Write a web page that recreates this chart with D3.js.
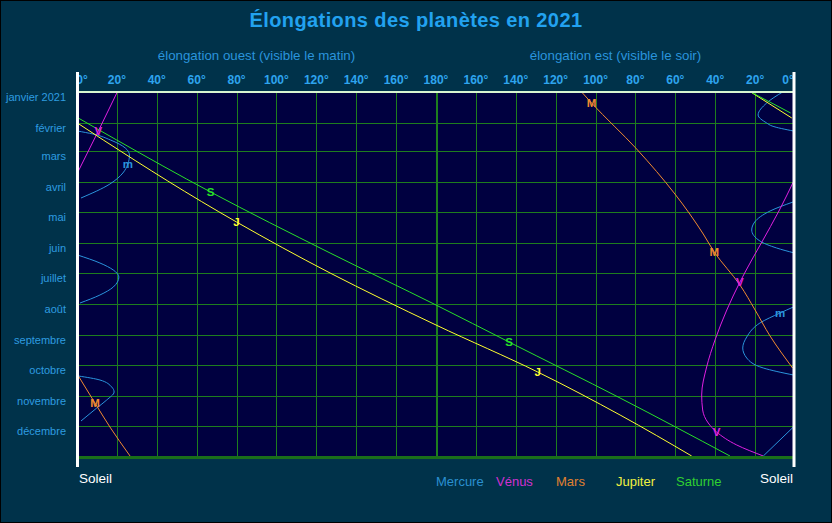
<!DOCTYPE html>
<html>
<head>
<meta charset="utf-8">
<style>
body {
    margin: 0;
    background: #00324a;
}
svg {
    display: block;
}
text {
    font-family: "Liberation Sans", Arial, sans-serif;
}
</style>
</head>
<body>
<svg id="chart" width="832" height="523"></svg>

<script src="https://d3js.org/d3.v7.min.js"></script>
<script>
    const months = ["janvier 2021", "février", "mars", "avril", "mai", "juin", "juillet", "août", "septembre", "octobre", "novembre", "décembre"];
    const tick_degrees = [0, 20, 40, 60, 80, 100, 120, 140, 160, 180, 200, 220, 240, 260, 280, 300, 320, 340, 360];
    const tick_labels = ["0°", "20°", "40°", "60°", "80°", "100°", "120°", "140°", "160°", "180°", "160°", "140°", "120°", "100°", "80°", "60°", "40°", "20°", "0°"];

    const planet_names = ["Mercure", "Vénus", "Mars", "Jupiter", "Saturne"];
    const planet_colors = ["#2a94dc", "#e020e0", "#f08a30", "#ffff30", "#28e028"];
    const legend_colors = ["#2a90d0", "#d030d0", "#e08030", "#f0f040", "#30d030"];

    // [date, elongation in degrees, side: "O" ouest (matin) / "E" est (soir)]
    const mercure = [
        ["2021-01-01", 6.2, "E"], ["2021-01-12", 14.2, "E"], ["2021-01-24", 18.5, "E"], ["2021-02-01", 14.2, "E"],
        ["2021-02-04", 11.5, "E"], ["2021-02-09", 0.8, "E"],
        ["2021-02-09", 0.2, "O"], ["2021-02-12", 8, "O"], ["2021-02-18", 16.8, "O"], ["2021-02-26", 24.2, "O"],
        ["2021-03-05", 26.3, "O"], ["2021-03-14", 25.5, "O"], ["2021-03-23", 23, "O"], ["2021-04-03", 16.5, "O"],
        ["2021-04-17", 2, "O"],
        ["2021-04-21", 1, "E"], ["2021-04-30", 12.5, "E"], ["2021-05-11", 20.2, "E"], ["2021-05-19", 21.7, "E"],
        ["2021-05-30", 17.6, "E"], ["2021-06-06", 9.2, "E"], ["2021-06-11", 0.3, "E"],
        ["2021-06-13", 0.3, "O"], ["2021-06-21", 11.5, "O"], ["2021-06-28", 18.2, "O"], ["2021-07-05", 21, "O"],
        ["2021-07-15", 18.2, "O"], ["2021-07-23", 11.5, "O"], ["2021-07-31", 1.5, "O"],
        ["2021-08-04", 0.8, "E"], ["2021-08-10", 7.5, "E"], ["2021-08-20", 17.6, "E"], ["2021-09-03", 24.2, "E"],
        ["2021-09-14", 26.2, "E"], ["2021-09-24", 24.2, "E"], ["2021-10-04", 15.9, "E"], ["2021-10-11", 0.8, "E"],
        ["2021-10-12", 0.7, "O"], ["2021-10-16", 11.5, "O"], ["2021-10-23", 17.4, "O"], ["2021-10-28", 18.6, "O"],
        ["2021-11-05", 14.9, "O"], ["2021-11-13", 9.9, "O"], ["2021-11-26", 2, "O"],
        ["2021-12-02", 0.8, "E"], ["2021-12-31", 15.9, "E"]
    ];
    const venus = [
        ["2021-01-01", 20.2, "O"], ["2021-02-09", 10.7, "O"], ["2021-03-21", 0.7, "O"],
        ["2021-04-01", 0.85, "E"], ["2021-04-29", 7.8, "E"], ["2021-06-01", 16.9, "E"], ["2021-06-18", 21.7, "E"],
        ["2021-07-10", 27.6, "E"], ["2021-08-07", 34.2, "E"], ["2021-09-06", 40.1, "E"], ["2021-10-03", 44.3, "E"],
        ["2021-10-31", 46.8, "E"], ["2021-11-15", 46.3, "E"], ["2021-11-28", 43.5, "E"], ["2021-12-07", 39.3, "E"],
        ["2021-12-20", 29.2, "E"], ["2021-12-31", 15.9, "E"]
    ];
    const mars = [
        ["2021-01-01", 107, "E"], ["2021-01-12", 102, "E"], ["2021-02-27", 79.4, "E"], ["2021-04-13", 60.2, "E"],
        ["2021-05-23", 46, "E"], ["2021-06-10", 40.5, "E"], ["2021-07-13", 27.6, "E"], ["2021-08-07", 20, "E"],
        ["2021-09-02", 12.5, "E"], ["2021-10-04", 1.2, "E"],
        ["2021-10-12", 0.7, "O"], ["2021-11-08", 9, "O"], ["2021-12-02", 16.5, "O"], ["2021-12-31", 26.6, "O"]
    ];
    const jupiter = [
        ["2021-01-01", 22.2, "E"], ["2021-01-27", 1.6, "E"],
        ["2021-02-01", 0.2, "O"], ["2021-02-18", 13.2, "O"], ["2021-05-11", 80, "O"], ["2021-07-01", 126.9, "O"],
        ["2021-08-22", 180, "O"],
        ["2021-10-08", 129, "E"], ["2021-11-20", 87.7, "E"], ["2021-12-31", 51.8, "E"]
    ];
    const saturne = [
        ["2021-01-01", 22.2, "E"], ["2021-01-22", 2.2, "E"],
        ["2021-01-27", 0.65, "O"], ["2021-02-18", 19.9, "O"], ["2021-04-11", 67, "O"], ["2021-06-11", 126.9, "O"],
        ["2021-08-02", 180, "O"],
        ["2021-09-08", 143.4, "E"], ["2021-11-03", 87.7, "E"], ["2021-12-31", 32.6, "E"]
    ];
    const planet_data = [mercure, venus, mars, jupiter, saturne];

    // letters written on the curves: [letter, planet index, date, elongation, side]
    const curve_labels = [
        ["M", 2, "2021-01-12", 102, "E"], ["V", 1, "2021-02-09", 10.7, "O"], ["m", 0, "2021-03-14", 25.5, "O"],
        ["S", 4, "2021-04-11", 67, "O"], ["J", 3, "2021-05-11", 80, "O"], ["M", 2, "2021-06-10", 40.5, "E"],
        ["V", 1, "2021-07-10", 27.6, "E"], ["m", 0, "2021-08-10", 7.5, "E"], ["S", 4, "2021-09-08", 143.4, "E"],
        ["J", 3, "2021-10-08", 129, "E"], ["M", 2, "2021-11-08", 9, "O"], ["V", 1, "2021-12-07", 39.3, "E"]
    ];

    const svg = d3.select("#chart");
    const width = 832, height = 523;
    const plot_left = 77, plot_right = 795, plot_top = 92, plot_bottom = 457;
    const parse = d3.utcParse("%Y-%m-%d");

    const x = d3.scaleLinear().domain([0, 360]).range([plot_left, plot_right]);
    const y = d3.scaleUtc().domain([parse("2021-01-01"), parse("2022-01-01")]).range([plot_top, plot_bottom]);

    function position(elong, side) {
        return side === "O" ? elong : 360 - elong;
    }

    drawFrame();
    drawGrid();
    drawCurves();
    drawCurveLabels();
    drawBorders();
    drawTexts();

    function drawFrame() {
        svg.append("rect")
            .attr("x", 0.5).attr("y", 0.5)
            .attr("width", width - 1).attr("height", height - 1)
            .style("fill", "#00324a")
            .style("stroke", "#000000");

        svg.append("rect")
            .attr("x", plot_left).attr("y", plot_top)
            .attr("width", plot_right - plot_left).attr("height", plot_bottom - plot_top)
            .style("fill", "#000040");

        svg.append("clipPath").attr("id", "plot-clip")
            .append("rect")
            .attr("x", plot_left).attr("y", plot_top)
            .attr("width", plot_right - plot_left).attr("height", plot_bottom - plot_top);
    }

    function drawGrid() {
        svg.selectAll("line.v-grid")
            .data(tick_degrees.filter(d => d > 0 && d < 360))
            .enter()
            .append("line")
            .attr("class", "v-grid")
            .attr("x1", d => Math.round(x(d)) + 0.5)
            .attr("x2", d => Math.round(x(d)) + 0.5)
            .attr("y1", plot_top)
            .attr("y2", plot_bottom)
            .style("stroke", "#1e7e1e")
            .style("stroke-width", d => d === 180 ? 2 : 1)
            .style("shape-rendering", "crispEdges");

        svg.selectAll("line.h-grid")
            .data(d3.utcMonth.range(parse("2021-02-01"), parse("2022-01-01")))
            .enter()
            .append("line")
            .attr("class", "h-grid")
            .attr("x1", plot_left)
            .attr("x2", plot_right)
            .attr("y1", d => Math.round(y(d)) + 0.5)
            .attr("y2", d => Math.round(y(d)) + 0.5)
            .style("stroke", "#1e7e1e")
            .style("stroke-width", 1)
            .style("shape-rendering", "crispEdges");
    }

    function drawCurves() {
        var line = d3.line()
            .x(d => x(position(d[1], d[2])))
            .y(d => y(parse(d[0])))
            .curve(d3.curveMonotoneY);

        var g = svg.append("g").attr("clip-path", "url(#plot-clip)");

        planet_data.forEach((rows, p) => {
            // a new piece starts each time the planet passes behind the Sun
            var pieces = [[rows[0]]];
            for (var i = 1; i < rows.length; i++) {
                var jump = Math.abs(position(rows[i][1], rows[i][2]) - position(rows[i - 1][1], rows[i - 1][2]));
                if (jump > 180) pieces.push([]);
                pieces[pieces.length - 1].push(rows[i]);
            }
            g.selectAll("path.p" + p)
                .data(pieces)
                .enter()
                .append("path")
                .attr("class", "p" + p)
                .attr("d", line)
                .style("fill", "none")
                .style("stroke", planet_colors[p])
                .style("stroke-width", 1);
        });
    }

    function drawCurveLabels() {
        svg.selectAll("text.letter")
            .data(curve_labels)
            .enter()
            .append("text")
            .attr("class", "letter")
            .attr("x", d => x(position(d[3], d[4])))
            .attr("y", d => y(parse(d[2])) + 4)
            .attr("text-anchor", "middle")
            .attr("font-size", "11.5px")
            .attr("font-weight", "bold")
            .style("fill", d => planet_colors[d[1]])
            .text(d => d[0]);
    }

    function drawBorders() {
        svg.append("line")
            .attr("x1", plot_left).attr("x2", plot_right)
            .attr("y1", plot_top).attr("y2", plot_top)
            .style("stroke", "#d8f4d0")
            .style("stroke-width", 2);

        svg.append("line")
            .attr("x1", plot_left).attr("x2", plot_right)
            .attr("y1", plot_bottom + 0.5).attr("y2", plot_bottom + 0.5)
            .style("stroke", "#1a6e1a")
            .style("stroke-width", 3);

        svg.selectAll("text.tick")
            .data(tick_degrees)
            .enter()
            .append("text")
            .attr("class", "tick")
            .attr("x", (d, i) => {
                if (d === 0) return x(d) + 5;
                if (d === 360) return x(d) - 7;
                return x(d);
            })
            .attr("y", 84)
            .attr("text-anchor", "middle")
            .attr("font-size", "12px")
            .attr("font-weight", "bold")
            .style("fill", "#2ea4ee")
            .text((d, i) => tick_labels[i]);

        svg.selectAll("line.sun")
            .data([plot_left + 0.5, plot_right - 1])
            .enter()
            .append("line")
            .attr("class", "sun")
            .attr("x1", d => d).attr("x2", d => d)
            .attr("y1", 72).attr("y2", 467)
            .style("stroke", "#ffffff")
            .style("stroke-width", 3);
    }

    function drawTexts() {
        svg.append("text")
            .attr("x", width / 2)
            .attr("y", 27)
            .attr("text-anchor", "middle")
            .attr("font-size", "20px")
            .attr("font-weight", "bold")
            .attr("letter-spacing", "0.4px")
            .style("fill", "#22a2f0")
            .text("Élongations des planètes en 2021");

        svg.append("text")
            .attr("x", (x(0) + x(180)) / 2)
            .attr("y", 60)
            .attr("text-anchor", "middle")
            .attr("font-size", "13.3px")
            .style("fill", "#2a94dc")
            .text("élongation ouest (visible le matin)");

        svg.append("text")
            .attr("x", (x(180) + x(360)) / 2)
            .attr("y", 60)
            .attr("text-anchor", "middle")
            .attr("font-size", "13.3px")
            .style("fill", "#2a94dc")
            .text("élongation est (visible le soir)");

        svg.selectAll("text.month")
            .data(months)
            .enter()
            .append("text")
            .attr("class", "month")
            .attr("x", 66)
            .attr("y", (d, i) => y(d3.utcMonth.offset(parse("2021-01-01"), i)) + 8.5)
            .attr("text-anchor", "end")
            .attr("font-size", "11px")
            .style("fill", "#2e9ce0")
            .text(d => d);

        svg.append("text")
            .attr("x", plot_left + 2)
            .attr("y", 483)
            .attr("font-size", "13.5px")
            .style("fill", "#ffffff")
            .text("Soleil");

        svg.append("text")
            .attr("x", plot_right - 2)
            .attr("y", 483)
            .attr("text-anchor", "end")
            .attr("font-size", "13.5px")
            .style("fill", "#ffffff")
            .text("Soleil");

        svg.selectAll("text.legend")
            .data(planet_names)
            .enter()
            .append("text")
            .attr("class", "legend")
            .attr("x", (d, i) => 436 + i * 60)
            .attr("y", 486)
            .attr("font-size", "13px")
            .style("fill", (d, i) => legend_colors[i])
            .text(d => d);
    }
</script>
</body>
</html>
